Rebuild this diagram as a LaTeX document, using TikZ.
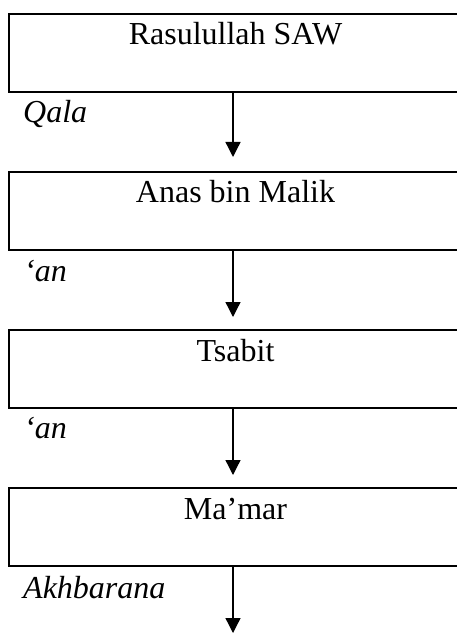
\documentclass[tikz,border=0pt]{standalone}
\usepackage{fontspec}
\setmainfont{Liberation Serif}
\usetikzlibrary{arrows.meta}
\begin{document}
\begin{tikzpicture}[x=1pt,y=-1pt,
  boxstyle/.style={draw, line width=2pt, inner sep=0pt, minimum width=453pt,
    text height=31pt, text depth=47pt, font=\fontsize{32}{38}\selectfont},
  lbl/.style={inner sep=0pt, anchor=base west, font=\fontsize{32}{38}\selectfont\itshape},
  arr/.style={line width=1.3pt, -{Triangle[width=15pt,length=15pt]}}]
\useasboundingbox (0,0) rectangle (456,636);
\node[boxstyle, anchor=base] (b1) at (235.5,45) {Rasulullah SAW};
\node[boxstyle, anchor=base] (b2) at (235.5,203) {Anas bin Malik};
\node[boxstyle, anchor=base] (b3) at (235.5,361) {Tsabit};
\node[boxstyle, anchor=base] (b4) at (235.5,519) {Ma’mar};
\coordinate (t1) at (233,157);
\coordinate (t2) at (233,317);
\coordinate (t3) at (233,475);
\coordinate (t4) at (233,633);
\draw[arr] (b1.south -| t1) -- (t1);
\draw[arr] (b2.south -| t2) -- (t2);
\draw[arr] (b3.south -| t3) -- (t3);
\draw[arr] (b4.south -| t4) -- (t4);
\node[lbl] (l1) at (23,123) {Qala};
\node[lbl] (l2) at (24,281) {‘an};
\node[lbl] (l3) at (24,438) {‘an};
\node[lbl] (l4) at (23,598) {Akhbarana};
\end{tikzpicture}
\end{document}
